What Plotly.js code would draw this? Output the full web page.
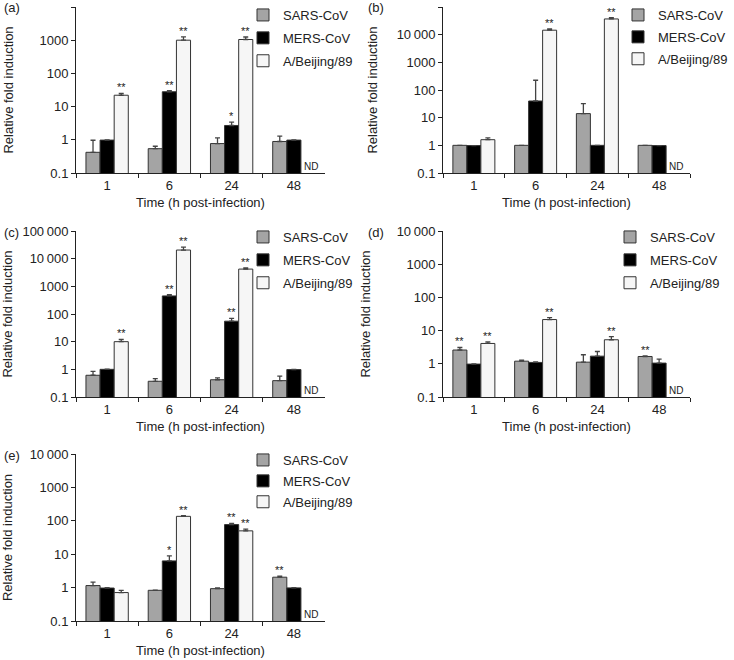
<!DOCTYPE html>
<html><head><meta charset="utf-8">
<script src="https://cdn.plot.ly/plotly-3.0.1.min.js"></script>
<style>html,body{margin:0;padding:0;background:#fff}</style>
</head><body><div id="chart" style="width:734px;height:660px"></div>
<script>
// ---- data ----
const times = ['1', '6', '24', '48'];
const seriesNames = ['SARS-CoV', 'MERS-CoV', 'A/Beijing/89'];
const panelLabels = ['(a)', '(b)', '(c)', '(d)', '(e)'];

// (a)
const sarsA = [0.42, 0.54, 0.77, 0.89];
const sarsAErr = [0.55, 0.10, 0.38, 0.40];
const mersA = [0.98, 28, 2.7, 0.98];
const mersAErr = [0.02, 2, 0.7, 0.02];
const bjA = [22, 1000, 1050, null];
const bjAErr = [3, 260, 200, null];
const sigA = [['', '', '', ''], ['', '**', '*', ''], ['**', '**', '**', 'ND']];

// (b)
const sarsB = [1.0, 1.0, 14, 1.0];
const sarsBErr = [0, 0, 18, 0];
const mersB = [0.98, 40, 1.0, 0.98];
const mersBErr = [0, 185, 0, 0];
const bjB = [1.6, 14500, 37000, null];
const bjBErr = [0.25, 1800, 4000, null];
const sigB = [['', '', '', ''], ['', '', '', ''], ['', '**', '**', 'ND']];

// (c)
const sarsC = [0.61, 0.37, 0.42, 0.39];
const sarsCErr = [0.24, 0.09, 0.07, 0.18];
const mersC = [1.0, 450, 55, 0.98];
const mersCErr = [0.02, 50, 15, 0.02];
const bjC = [10, 20500, 4200, null];
const bjCErr = [2, 5500, 400, null];
const sigC = [['', '', '', ''], ['', '**', '**', ''], ['**', '**', '**', 'ND']];

// (d)
const sarsD = [2.6, 1.2, 1.12, 1.66];
const sarsDErr = [0.5, 0.08, 0.75, 0.08];
const mersD = [0.98, 1.1, 1.7, 1.05];
const mersDErr = [0.02, 0.05, 0.65, 0.34];
const bjD = [4.1, 21.5, 5.3, null];
const bjDErr = [0.5, 3, 1.3, null];
const sigD = [['**', '', '', '**'], ['', '', '', ''], ['**', '**', '**', 'ND']];

// (e)
const sarsE = [1.15, 0.83, 0.93, 2.05];
const sarsEErr = [0.3, 0.01, 0.05, 0.15];
const mersE = [0.97, 6.3, 77, 0.98];
const mersEErr = [0.02, 2.6, 7, 0.02];
const bjE = [0.71, 136, 50, null];
const bjEErr = [0.12, 6, 6, null];
const sigE = [['', '', '', '**'], ['', '*', '**', ''], ['', '**', '**', 'ND']];

const yTop = [4, 5, 5, 4, 4];   // log10 of axis maximum
const yTickVals = [0.1, 1, 10, 100, 1000, 10000, 100000];
const yTickText = ['0.1', '1', '10', '100', '1000', '10\u2009000', '100\u2009000'];

// ---- styling ----
const W = 734, H = 660;
const fillColors = ['#a4a4a4', '#000000', '#f6f6f6'];
const lineColor = '#333333';
const txt = '#222222';
const FONT = 'Liberation Sans, Arial, Helvetica, sans-serif';
const bargap = 0.32;

const panels = [
  {vals: [sarsA, mersA, bjA], errs: [sarsAErr, mersAErr, bjAErr], sig: sigA},
  {vals: [sarsB, mersB, bjB], errs: [sarsBErr, mersBErr, bjBErr], sig: sigB},
  {vals: [sarsC, mersC, bjC], errs: [sarsCErr, mersCErr, bjCErr], sig: sigC},
  {vals: [sarsD, mersD, bjD], errs: [sarsDErr, mersDErr, bjDErr], sig: sigD},
  {vals: [sarsE, mersE, bjE], errs: [sarsEErr, mersEErr, bjEErr], sig: sigE}
];

// pixel boxes of plot areas [left, right, top, bottom]
const boxes = [
  [76, 325, 7, 173],
  [443, 690, 7, 173],
  [76, 325, 231, 397],
  [443, 690, 231, 397],
  [76, 325, 454, 621]
];
// legend: [text start px, top px, item gap]
const legPos = [[283, 0, 3], [658, 0, 2], [283, 222, 3], [650, 222, 3], [283, 445, 1]];
// y-title standoff per panel
const yStandoff = [22, 16, 15, 23, 22];

const traces = [];
const annotations = [];
const layout = {
  width: W, height: H,
  margin: {l: 0, r: 0, t: 0, b: 0},
  paper_bgcolor: '#fff', plot_bgcolor: '#fff',
  barmode: 'group', bargap: bargap, bargroupgap: 0,
  font: {family: FONT, size: 13, color: txt},
  annotations: annotations
};

const bw = (1 - bargap) / 3;

panels.forEach((p, pi) => {
  const n = pi + 1;
  const xa = 'x' + (n === 1 ? '' : n), ya = 'y' + (n === 1 ? '' : n);
  const legName = 'legend' + (n === 1 ? '' : n);
  p.vals.forEach((v, si) => {
    traces.push({
      type: 'bar', x: times, y: v, name: seriesNames[si],
      xaxis: xa, yaxis: ya, legend: legName, legendgroup: 'g' + n + '_' + si,
      marker: {color: fillColors[si], line: {color: lineColor, width: 1}},
      error_y: {type: 'data', array: p.errs[si], arrayminus: v.map(() => 0), symmetric: false,
                color: '#444', thickness: 1.3, width: 2.5},
      hoverinfo: 'skip'
    });
    // significance labels
    p.sig[si].forEach((s, ci) => {
      if (!s) return;
      const xpos = ci + (si - 1) * bw;
      if (s === 'ND') {
        annotations.push({xref: xa, yref: ya, x: xpos, y: -1, text: 'ND', showarrow: false,
          xanchor: 'center', yanchor: 'bottom', xshift: 3, yshift: -1,
          font: {size: 10, color: txt, family: FONT}});
      } else {
        const top = v[ci] + (p.errs[si][ci] || 0);
        annotations.push({xref: xa, yref: ya, x: xpos, y: Math.log10(top), text: s, showarrow: false,
          xanchor: 'center', yanchor: 'bottom', yshift: -2,
          font: {size: 11, color: txt, family: FONT}});
      }
    });
  });
  const b = boxes[pi];
  layout['xaxis' + (n === 1 ? '' : n)] = {
    domain: [b[0] / W, b[1] / W], anchor: ya, type: 'category',
    showline: true, linecolor: '#222', linewidth: 1, ticks: 'outside', ticklen: 4,
    tickcolor: '#222', tickson: 'boundaries', showgrid: false, zeroline: false,
    tickfont: {size: 13, color: txt}, fixedrange: true,
    title: {text: 'Time (h post-infection)', font: {size: 13, color: txt}, standoff: 6}
  };
  const tv = yTickVals.filter(t => Math.log10(t) <= yTop[pi] + 1e-9);
  layout['yaxis' + (n === 1 ? '' : n)] = {
    domain: [1 - b[3] / H, 1 - b[2] / H], anchor: xa, type: 'log',
    range: [-1, yTop[pi]], tickvals: tv, ticktext: yTickText.slice(0, tv.length),
    showline: true, linecolor: '#222', linewidth: 1, ticks: 'outside', ticklen: 4,
    tickcolor: '#222', showgrid: false, zeroline: false,
    tickfont: {size: 13, color: txt}, fixedrange: true,
    title: {text: 'Relative fold induction', font: {size: 13, color: txt}, standoff: yStandoff[pi]}
  };
  const lp = legPos[pi];
  layout[legName] = {
    x: (lp[0] - 40) / W, xanchor: 'left', y: 1 - lp[1] / H, yanchor: 'top',
    bgcolor: 'rgba(0,0,0,0)', borderwidth: 0, tracegroupgap: lp[2],
    font: {size: 13, color: txt, family: FONT}
  };
  annotations.push({xref: 'paper', yref: 'paper', x: (b[0] < 200 ? 2 : 366) / W, y: 1 - (b[2] + 1) / H,
    text: panelLabels[pi], showarrow: false, xanchor: 'left', yanchor: 'middle',
    font: {size: 13, color: txt, family: FONT}});
});

Plotly.newPlot('chart', traces, layout, {staticPlot: true, displayModeBar: false});
</script></body></html>
